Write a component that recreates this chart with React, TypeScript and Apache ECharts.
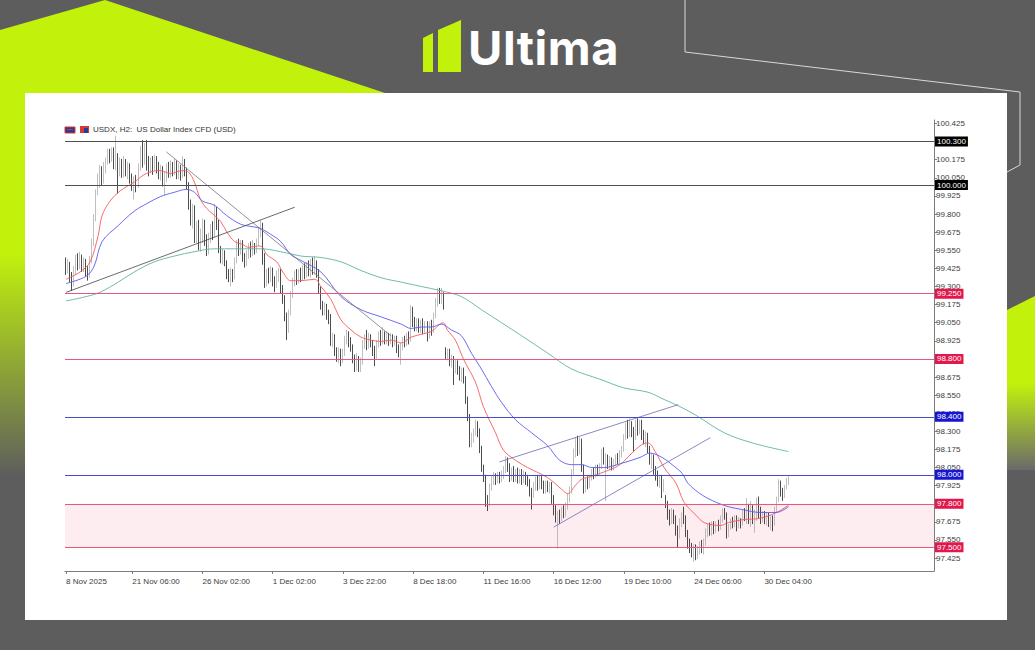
import React, { useEffect, useRef } from 'react';
import * as echarts from 'echarts';

// ---------- DATA ----------
// H2 candles: [open, close, low, high]
const candles: number[][] = [
[99.47,99.42,99.38,99.50],[99.42,99.45,99.39,99.49],[99.45,99.38,99.33,99.47],[99.38,99.32,99.27,99.40],[99.32,99.41,99.30,99.44],
[99.41,99.48,99.38,99.52],[99.48,99.45,99.41,99.53],[99.45,99.50,99.42,99.54],[99.50,99.44,99.40,99.52],[99.44,99.47,99.40,99.50],
[99.47,99.41,99.37,99.49],[99.41,99.38,99.34,99.44],[99.38,99.48,99.36,99.51],[99.48,99.60,99.46,99.63],[99.60,99.78,99.58,99.80],
[99.78,99.95,99.75,99.97],[99.95,100.05,99.93,100.08],[100.05,100.10,99.98,100.14],[100.10,100.03,100.00,100.13],[100.03,100.12,100.01,100.16],
[100.12,100.17,100.08,100.19],[100.17,100.22,100.14,100.25],[100.22,100.19,100.15,100.25],[100.19,100.24,100.16,100.26],[100.24,100.15,100.11,100.26],
[100.15,100.20,100.10,100.34],[100.20,100.10,99.94,100.22],[100.10,100.16,100.06,100.19],[100.16,100.08,100.05,100.18],[100.08,100.15,100.05,100.20],
[100.15,100.10,100.06,100.18],[100.10,100.13,100.04,100.16],[100.13,100.05,100.01,100.15],[100.05,99.99,99.96,100.08],[99.99,100.03,99.90,100.06],
[100.03,100.00,99.95,100.07],[100.00,100.12,99.98,100.15],[100.12,100.24,100.10,100.27],[100.24,100.18,100.12,100.31],[100.18,100.26,100.14,100.29],
[100.26,100.15,100.10,100.31],[100.15,100.10,100.06,100.20],[100.10,100.17,100.08,100.19],[100.17,100.12,100.07,100.20],[100.12,100.18,100.10,100.21],
[100.18,100.14,100.08,100.20],[100.14,100.08,100.04,100.16],[100.08,100.12,100.03,100.14],[100.12,100.03,99.99,100.13],[100.03,100.06,99.93,100.09],
[100.06,100.13,100.02,100.15],[100.13,100.08,100.05,100.16],[100.08,100.14,100.05,100.17],[100.14,100.10,100.06,100.16],[100.10,100.15,100.07,100.18],
[100.15,100.09,100.04,100.17],[100.09,100.12,100.04,100.15],[100.12,100.07,100.03,100.14],[100.07,100.14,100.05,100.20],[100.14,100.10,100.06,100.18],
[100.10,100.00,99.97,100.12],[100.00,99.86,99.83,100.02],[99.86,99.76,99.72,99.90],[99.76,99.84,99.70,99.87],[99.84,99.65,99.60,99.86],
[99.65,99.72,99.60,99.75],[99.72,99.58,99.55,99.76],[99.58,99.66,99.54,99.70],[99.66,99.74,99.60,99.77],[99.74,99.62,99.58,99.76],
[99.62,99.55,99.51,99.66],[99.55,99.64,99.52,99.67],[99.64,99.70,99.60,99.73],[99.70,99.66,99.62,99.75],[99.66,99.78,99.64,99.87],
[99.78,99.73,99.69,99.85],[99.73,99.56,99.53,99.76],[99.56,99.50,99.46,99.58],[99.50,99.53,99.45,99.56],[99.53,99.47,99.44,99.55],
[99.47,99.38,99.35,99.48],[99.38,99.36,99.33,99.42],[99.36,99.40,99.30,99.43],[99.40,99.37,99.33,99.42],[99.37,99.48,99.35,99.50],
[99.48,99.58,99.46,99.62],[99.58,99.55,99.51,99.63],[99.55,99.60,99.52,99.62],[99.60,99.50,99.47,99.62],[99.50,99.47,99.43,99.53],
[99.47,99.52,99.44,99.55],[99.52,99.57,99.49,99.60],[99.57,99.53,99.50,99.61],[99.53,99.58,99.51,99.62],[99.58,99.55,99.52,99.60],
[99.55,99.60,99.53,99.63],[99.60,99.68,99.58,99.71],[99.68,99.72,99.64,99.76],[99.72,99.50,99.45,99.74],[99.50,99.32,99.29,99.53],
[99.32,99.40,99.30,99.42],[99.40,99.36,99.32,99.43],[99.36,99.41,99.33,99.44],[99.41,99.34,99.30,99.43],[99.34,99.31,99.26,99.37],
[99.31,99.38,99.29,99.41],[99.38,99.40,99.33,99.43],[99.40,99.28,99.25,99.42],[99.28,99.22,99.18,99.31],[99.22,99.10,99.06,99.24],
[99.10,99.00,98.93,99.12],[99.00,99.12,98.98,99.14],[99.12,99.25,99.10,99.27],[99.25,99.33,99.22,99.36],[99.33,99.38,99.30,99.41],
[99.38,99.35,99.31,99.42],[99.35,99.39,99.32,99.42],[99.39,99.36,99.33,99.43],[99.36,99.42,99.34,99.45],[99.42,99.38,99.35,99.46],
[99.38,99.44,99.36,99.47],[99.44,99.40,99.37,99.48],[99.40,99.45,99.36,99.49],[99.45,99.42,99.38,99.50],[99.42,99.46,99.38,99.51],
[99.46,99.40,99.36,99.48],[99.40,99.28,99.25,99.42],[99.28,99.17,99.14,99.30],[99.17,99.13,99.10,99.20],[99.13,99.16,99.10,99.19],
[99.16,99.11,99.07,99.18],[99.11,99.08,99.04,99.14],[99.08,98.92,98.89,99.11],[98.92,98.95,98.88,98.98],[98.95,98.86,98.82,98.97],
[98.86,98.82,98.78,98.88],[98.82,98.85,98.77,98.88],[98.85,98.80,98.75,98.87],[98.80,98.84,98.77,98.87],[98.84,98.93,98.82,98.96],
[98.93,98.97,98.90,99.00],[98.97,98.92,98.88,98.99],[98.92,98.88,98.85,98.95],[98.88,98.80,98.77,98.90],[98.80,98.76,98.71,98.83],
[98.76,98.80,98.72,98.84],[98.80,98.74,98.71,98.82],[98.74,98.78,98.71,98.81],[98.78,98.90,98.76,98.93],[98.90,98.94,98.87,98.97],
[98.94,98.89,98.86,99.00],[98.89,98.95,98.87,98.98],[98.95,98.91,98.88,98.97],[98.91,98.86,98.82,98.93],[98.86,98.82,98.75,98.89],
[98.82,98.90,98.80,98.93],[98.90,98.96,98.88,98.99],[98.96,98.92,98.89,99.00],[98.92,98.97,98.90,99.02],[98.97,98.93,98.90,98.99],
[98.93,98.96,98.90,98.99],[98.96,98.92,98.89,98.98],[98.92,98.95,98.90,98.98],[98.95,98.91,98.88,98.97],[98.91,98.94,98.89,98.96],
[98.94,98.87,98.84,98.96],[98.87,98.85,98.81,98.90],[98.85,98.88,98.76,98.91],[98.88,98.93,98.86,98.95],[98.93,98.91,98.88,98.96],
[98.91,98.96,98.89,98.98],[98.96,98.93,98.90,98.99],[98.93,99.14,98.92,99.17],[99.14,99.06,99.02,99.16],[99.06,99.02,98.99,99.09],
[99.02,99.06,98.99,99.08],[99.06,99.01,98.98,99.08],[99.01,99.05,98.98,99.07],[99.05,99.00,98.97,99.08],[99.00,99.04,98.98,99.06],
[99.04,98.98,98.92,99.06],[98.98,99.03,98.94,99.06],[99.03,99.00,98.96,99.07],[99.00,99.10,98.98,99.12],[99.10,99.20,99.08,99.22],
[99.20,99.26,99.16,99.29],[99.26,99.22,99.18,99.29],[99.22,99.24,99.18,99.29],[99.24,99.17,99.14,99.26],[98.86,98.83,98.80,98.88],
[98.83,98.85,98.79,98.87],[98.85,98.78,98.75,98.87],[98.78,98.80,98.74,98.83],[98.80,98.74,98.62,98.82],[98.74,98.77,98.70,98.80],
[98.77,98.72,98.69,98.79],[98.72,98.68,98.65,98.75],[98.68,98.72,98.64,98.74],[98.72,98.66,98.63,98.74],[98.66,98.52,98.49,98.68],
[98.52,98.40,98.37,98.54],[98.40,98.22,98.19,98.42],[98.22,98.26,98.19,98.29],[98.26,98.30,98.22,98.32],[98.30,98.35,98.27,98.38],
[98.35,98.30,98.26,98.37],[98.30,98.18,98.15,98.32],[98.18,98.05,98.02,98.20],[98.05,97.98,97.95,98.07],[97.98,97.82,97.78,98.00],
[97.82,97.80,97.75,97.86],[97.80,97.92,97.78,97.94],[97.92,97.96,97.89,97.99],[97.96,97.99,97.93,98.02],[97.99,97.96,97.93,98.01],
[97.96,98.00,97.94,98.02],[98.00,97.97,97.94,98.02],[97.97,98.01,97.95,98.03],[98.01,98.04,97.97,98.06],[98.04,98.10,98.01,98.13],
[98.10,98.06,98.02,98.12],[98.06,97.99,97.95,98.08],[97.99,98.03,97.96,98.05],[98.03,97.98,97.95,98.06],[97.98,98.02,97.95,98.04],
[98.02,97.97,97.94,98.05],[97.97,98.01,97.94,98.04],[98.01,97.96,97.93,98.04],[97.96,98.00,97.94,98.03],[98.00,97.97,97.93,98.02],
[97.97,97.95,97.92,98.00],[97.95,97.88,97.85,97.97],[97.88,97.86,97.76,97.91],[97.86,97.92,97.84,97.95],[97.92,97.96,97.89,97.99],
[97.96,97.92,97.89,98.00],[97.92,97.97,97.90,98.00],[97.97,97.93,97.90,97.99],[97.93,97.90,97.87,97.96],[97.90,97.94,97.87,97.96],
[97.94,97.91,97.88,97.96],[97.91,97.93,97.87,97.95],[97.93,97.84,97.80,97.95],[97.84,97.76,97.72,97.86],[97.76,97.70,97.67,97.79],
[97.70,97.72,97.49,97.75],[97.72,97.70,97.66,97.76],[97.70,97.75,97.68,97.78],[97.75,97.73,97.70,97.79],[97.73,97.78,97.71,97.81],
[97.78,97.84,97.76,97.87],[97.84,97.89,97.81,97.92],[97.89,98.02,97.87,98.04],[98.02,98.15,98.00,98.18],[98.15,98.22,98.12,98.26],
[98.22,98.17,98.13,98.27],[98.17,98.23,98.14,98.26],[98.23,98.05,98.02,98.25],[98.05,97.90,97.87,98.07],[97.90,97.96,97.88,97.98],
[97.96,97.93,97.90,97.99],[97.93,97.98,97.91,98.00],[97.98,98.02,97.96,98.04],[98.02,98.00,97.97,98.05],[98.00,98.05,97.98,98.07],
[98.05,98.02,97.99,98.07],[98.02,98.06,98.00,98.08],[98.06,98.15,98.04,98.18],[98.15,98.10,98.07,98.19],[98.10,98.12,97.82,98.15],
[98.12,98.07,98.04,98.14],[98.07,98.10,98.04,98.13],[98.10,98.06,98.03,98.12],[98.06,98.09,98.03,98.11],[98.09,98.12,98.06,98.14],
[98.12,98.10,98.07,98.15],[98.10,98.15,98.08,98.17],[98.15,98.18,98.12,98.20],[98.18,98.26,98.16,98.28],[98.26,98.33,98.24,98.36],
[98.33,98.29,98.25,98.38],[98.29,98.35,98.26,98.39],[98.35,98.30,98.26,98.37],[98.30,98.27,98.16,98.33],[98.27,98.34,98.24,98.38],
[98.34,98.31,98.27,98.39],[98.31,98.36,98.28,98.38],[98.36,98.28,98.24,98.38],[98.28,98.25,98.21,98.31],[98.25,98.27,98.19,98.30],
[98.27,98.18,98.15,98.29],[98.18,98.10,98.07,98.20],[98.10,98.12,98.04,98.15],[98.12,98.03,98.00,98.14],[98.03,98.00,97.96,98.06],
[98.00,97.95,97.92,98.03],[97.95,97.98,97.91,98.00],[97.98,97.91,97.84,98.00],[97.91,97.95,97.88,97.97],[97.85,97.80,97.77,97.86],
[97.80,97.72,97.69,97.82],[97.72,97.68,97.65,97.76],[97.68,97.74,97.66,97.77],[97.74,97.70,97.66,97.76],[97.70,97.62,97.58,97.72],
[97.62,97.58,97.50,97.65],[97.58,97.68,97.56,97.70],[97.68,97.72,97.64,97.74],[97.72,97.70,97.66,97.78],[97.70,97.60,97.57,97.72],
[97.60,97.53,97.49,97.62],[97.53,97.50,97.46,97.56],[97.50,97.46,97.43,97.53],[97.46,97.49,97.40,97.52],[97.49,97.44,97.41,97.52],
[97.44,97.48,97.42,97.51],[97.48,97.52,97.45,97.54],[97.52,97.49,97.46,97.55],[97.49,97.53,97.45,97.56],[97.53,97.60,97.51,97.63],
[97.60,97.64,97.57,97.66],[97.64,97.61,97.58,97.67],[97.61,97.65,97.58,97.68],[97.65,97.62,97.59,97.68],[97.62,97.66,97.60,97.68],
[97.66,97.64,97.61,97.69],[97.64,97.70,97.62,97.72],[97.70,97.75,97.67,97.77],[97.75,97.72,97.69,97.77],[97.72,97.60,97.56,97.74],
[97.60,97.64,97.57,97.66],[97.64,97.68,97.62,97.70],[97.68,97.66,97.63,97.71],[97.66,97.70,97.64,97.72],[97.70,97.66,97.61,97.72],
[97.66,97.69,97.63,97.71],[97.69,97.67,97.63,97.70],[97.67,97.74,97.65,97.76],[97.74,97.71,97.68,97.77],[97.71,97.78,97.66,97.84],
[97.78,97.72,97.66,97.80],[97.72,97.76,97.64,97.82],[97.76,97.70,97.66,97.79],[97.70,97.72,97.60,97.76],[97.72,97.77,97.68,97.84],
[97.77,97.73,97.70,97.85],[97.73,97.70,97.66,97.78],[97.70,97.73,97.67,97.75],[97.73,97.69,97.66,97.75],[97.69,97.72,97.65,97.74],
[97.72,97.67,97.64,97.74],[97.67,97.70,97.62,97.72],[97.70,97.66,97.61,97.72],[97.66,97.76,97.65,97.78],[97.76,97.83,97.74,97.85],
[97.83,97.94,97.81,97.97],[97.94,97.88,97.85,97.96],[97.88,97.85,97.82,97.91],[97.85,97.91,97.84,97.93],[97.91,97.95,97.90,97.98],
[97.95,97.964,97.93,97.99],
];

// moving averages: [bar index, value]
const maFast: number[][] = [
[0,99.35],[7,99.40],[12,99.47],[16,99.65],[18,99.79],[22,99.89],[27,99.96],[34,100.02],[40,100.08],[47,100.10],
[52,100.08],[58,100.10],[61,100.09],[64,100.02],[67,99.90],[70,99.84],[74,99.79],[77,99.75],[80,99.68],[84,99.61],
[88,99.59],[91,99.57],[96,99.58],[98,99.57],[100,99.52],[105,99.47],[108,99.40],[112,99.34],[117,99.34],[124,99.35],
[127,99.30],[132,99.21],[137,99.07],[142,99.00],[147,98.95],[152,98.93],[157,98.92],[162,98.93],[167,98.91],[172,98.95],
[177,98.97],[182,98.99],[188,99.05],[190,99.00],[194,98.93],[198,98.80],[204,98.64],[208,98.47],[214,98.29],[218,98.17],
[224,98.10],[230,98.05],[240,97.98],[247,97.90],[250,97.87],[254,97.93],[257,97.97],[262,97.99],[270,98.03],[276,98.07],
[282,98.15],[287,98.21],[290,98.22],[294,98.15],[298,98.05],[304,97.94],[308,97.81],[314,97.72],[318,97.67],[326,97.65],
[330,97.67],[337,97.69],[346,97.70],[354,97.74],[360,97.79],
];
const maMid: number[][] = [
[0,99.32],[10,99.37],[14,99.44],[18,99.61],[26,99.72],[34,99.82],[40,99.87],[47,99.92],[54,99.95],[60,99.97],
[64,99.95],[68,99.89],[74,99.86],[80,99.79],[87,99.73],[94,99.71],[97,99.70],[102,99.66],[107,99.61],[112,99.52],
[117,99.48],[127,99.40],[137,99.23],[147,99.14],[157,99.09],[167,99.04],[172,99.01],[177,99.02],[182,99.02],[187,99.04],
[192,99.00],[197,98.96],[202,98.84],[207,98.73],[212,98.61],[217,98.50],[224,98.38],[232,98.29],[240,98.20],[246,98.10],
[252,98.07],[257,98.07],[262,98.05],[268,98.05],[277,98.08],[286,98.12],[291,98.15],[297,98.12],[302,98.07],[307,98.01],
[310,97.94],[317,97.86],[324,97.81],[330,97.78],[337,97.76],[346,97.74],[354,97.74],[360,97.78],
];
const maSlow: number[][] = [
[0,99.20],[10,99.23],[17,99.26],[26,99.33],[34,99.40],[44,99.47],[54,99.51],[64,99.54],[74,99.56],[84,99.56],
[97,99.56],[107,99.54],[117,99.51],[127,99.50],[137,99.47],[147,99.41],[157,99.36],[167,99.33],[177,99.30],[187,99.27],
[197,99.23],[207,99.14],[217,99.05],[227,98.96],[240,98.84],[252,98.73],[266,98.66],[278,98.60],[290,98.57],[298,98.52],
[306,98.47],[314,98.41],[328,98.29],[342,98.22],[360,98.16],
];

// drawn trend lines: [[bar, price], [bar, price]]
const supportLine = [[0, 99.259], [114, 99.847]];
const resistanceLine = [[50, 100.229], [162, 98.958]];
const channelUpper = [[216, 98.089], [305, 98.484]];
const channelLower = [[243, 97.639], [321, 98.256]];

// horizontal levels
const blackLevels = [100.3, 100.0];
const redLevels = [99.25, 98.8, 97.8, 97.5];
const blueLevels = [98.4, 98.0];
const lastPrice = 97.964;
const zoneBand = [97.5, 97.8];

// axes
const yTickValues = [
97.425, 97.55, 97.675, 97.8, 97.925, 98.05, 98.175, 98.3, 98.425, 98.55, 98.675, 98.8, 98.925,
99.05, 99.175, 99.3, 99.425, 99.55, 99.675, 99.8, 99.925, 100.05, 100.175, 100.3, 100.425,
];
const xTickLabels: { index: number; label: string }[] = [
{ index: 0, label: '8 Nov 2025' }, { index: 33, label: '21 Nov 06:00' }, { index: 68, label: '26 Nov 02:00' },
{ index: 103, label: '1 Dec 02:00' }, { index: 138, label: '3 Dec 22:00' }, { index: 173, label: '8 Dec 18:00' },
{ index: 208, label: '11 Dec 16:00' }, { index: 243, label: '16 Dec 12:00' }, { index: 278, label: '19 Dec 10:00' },
{ index: 313, label: '24 Dec 06:00' }, { index: 348, label: '30 Dec 04:00' },
];
const slotCount = 433;
const symbolTitle = 'USDX, H2:  US Dollar Index CFD (USD)';

// ---------- CHART ----------
const FONT = 'Liberation Sans, Arial, sans-serif';
const RED_LINE = '#e8587c';
const RED_TAG = '#e3174b';
const BLUE_LINE = '#4a4ad0';
const BLUE_TAG = '#1616d2';

function tagLabel(bg: string) {
  return {
    show: true,
    position: 'end',
    distance: 1,
    formatter: (p: any) => Number(p.value).toFixed(3),
    backgroundColor: bg,
    color: '#ffffff',
    fontSize: 8,
    fontFamily: FONT,
    padding: [1, 2, 0, 2],
    lineHeight: 9,
  };
}

function buildOption() {
  const labelMap: Record<number, string> = {};
  xTickLabels.forEach((t) => (labelMap[t.index] = t.label));
  const categories = Array.from({ length: slotCount }, (_, i) => labelMap[i] ?? '');

  const levelData: any[] = [];
  levelData.push({ yAxis: lastPrice, lineStyle: { opacity: 0 }, label: tagLabel('#000000') });
  blackLevels.forEach((v) => levelData.push({ yAxis: v, lineStyle: { color: '#505050', width: 1, type: 'solid' }, label: tagLabel('#000000') }));
  redLevels.forEach((v) => levelData.push({ yAxis: v, lineStyle: { color: RED_LINE, width: 1, type: 'solid' }, label: tagLabel(RED_TAG) }));
  blueLevels.forEach((v) => levelData.push({ yAxis: v, lineStyle: { color: BLUE_LINE, width: 1, type: 'solid' }, label: tagLabel(BLUE_TAG) }));

  const trend = (name: string, pts: number[][], color: string) => ({
    name, type: 'line', data: pts, showSymbol: false, symbol: 'none', silent: true, z: 4,
    lineStyle: { color, width: 0.8 },
  });
  const ma = (name: string, pts: number[][], color: string) => ({
    name, type: 'line', data: pts, showSymbol: false, symbol: 'none', smooth: 0.35, silent: true, z: 4,
    lineStyle: { color, width: 0.9 },
  });

  return {
    animation: false,
    textStyle: { fontFamily: FONT },
    grid: { left: 40, top: 27, width: 869, height: 451, containLabel: false },
    xAxis: {
      type: 'category',
      data: categories,
      boundaryGap: true,
      axisLine: { show: true, lineStyle: { color: '#7c7c7c', width: 1 } },
      axisTick: { show: true, alignWithLabel: true, interval: (_i: number, v: string) => v !== '', length: 3, lineStyle: { color: '#7c7c7c' } },
      axisLabel: { interval: (_i: number, v: string) => v !== '', align: 'left', fontSize: 8, color: '#3c3c3c', margin: 6, fontFamily: FONT },
      splitLine: { show: false },
    },
    yAxis: {
      type: 'value',
      position: 'right',
      min: 97.336,
      max: 100.449,
      scale: true,
      splitLine: { show: false },
      axisLine: { show: true, lineStyle: { color: '#7c7c7c', width: 1 } },
      axisTick: { show: true, customValues: yTickValues, length: 3, lineStyle: { color: '#7c7c7c' } },
      axisLabel: { customValues: yTickValues, formatter: (v: number) => v.toFixed(3), fontSize: 8, color: '#3c3c3c', margin: 2, fontFamily: FONT },
    },
    graphic: [
      { type: 'rect', shape: { x: 40, y: 34, width: 10, height: 6 }, style: { fill: '#2b3a8c', stroke: '#d23a3a', lineWidth: 1 } },
      { type: 'rect', shape: { x: 42, y: 36, width: 6, height: 1 }, style: { fill: '#d23a3a' } },
      { type: 'rect', shape: { x: 55, y: 33, width: 9, height: 7 }, style: { fill: '#d23a3a' } },
      { type: 'rect', shape: { x: 59, y: 35, width: 4, height: 5 }, style: { fill: '#2b3a8c' } },
      { type: 'text', x: 68, y: 36, style: { text: symbolTitle, fontSize: 8, fill: '#333333', fontFamily: FONT, verticalAlign: 'middle' } },
    ],
    series: [
      {
        name: 'zone', type: 'line', data: [], z: 1, silent: true,
        markArea: { silent: true, itemStyle: { color: '#fdedf1' }, data: [[{ yAxis: zoneBand[0] }, { yAxis: zoneBand[1] }]] },
      },
      {
        name: 'USDX', type: 'candlestick', data: candles, z: 3, barWidth: 1,
        itemStyle: { color: '#a3a3a3', color0: '#000000', borderColor: '#a3a3a3', borderColor0: '#000000', borderWidth: 0.7 },
        markLine: { symbol: ['none', 'none'], silent: true, animation: false, data: levelData, z: 6 },
      },
      ma('MA fast', maFast, '#f55a5a'),
      ma('MA mid', maMid, '#5a5af0'),
      ma('MA slow', maSlow, '#5fb3a2'),
      trend('support', supportLine, '#454545'),
      trend('resistance', resistanceLine, '#777777'),
      trend('channel upper', channelUpper, '#6c6cb4'),
      trend('channel lower', channelLower, '#6c6cb4'),
    ],
  };
}

export default function App() {
  const ref = useRef<HTMLDivElement>(null);
  useEffect(() => {
    if (!ref.current) return;
    const chart = echarts.init(ref.current, null, { renderer: 'svg' });
    chart.setOption(buildOption() as any);
    return () => chart.dispose();
  }, []);
  const lime = '#c2f20c';
  return (
    <div style={{ position: 'fixed', left: 0, top: 0, width: 1035, height: 650, background: '#5d5d5d', overflow: 'hidden' }}>
      <svg width={1035} height={650} style={{ position: 'absolute', left: 0, top: 0 }}>
        <defs>
          <linearGradient id="leftFade" x1="0" y1="0" x2="0" y2="1">
            <stop offset="0" stopColor={lime} />
            <stop offset="0.45" stopColor={lime} />
            <stop offset="0.85" stopColor="#5d5d5d" />
          </linearGradient>
          <linearGradient id="rightFade" x1="0" y1="0" x2="0" y2="1">
            <stop offset="0" stopColor={lime} />
            <stop offset="0.5" stopColor={lime} />
            <stop offset="1" stopColor="#6a6a6a" />
          </linearGradient>
        </defs>
        <polygon points="105,0 385,93 25,93 25,560 0,560 0,0" fill="url(#leftFade)" />
        <polygon points="0,0 105,0 0,30" fill="#5d5d5d" />
        <polygon points="1007,310 1035,296 1035,470 1007,470" fill="url(#rightFade)" />
        <polyline points="685,0 685,52 1020,92 1020,165 1007,172" fill="none" stroke="#d8d8d8" strokeWidth={1} />
        <polygon points="423,38 433,33 433,72 423,72" fill={lime} />
        <polygon points="438,30 461,20 461,72 438,72" fill={lime} />
      </svg>
      <div style={{ position: 'absolute', left: 468, top: 20, fontFamily: 'Inter, Open Sans, sans-serif', fontWeight: 700, fontSize: 47, lineHeight: '56px', color: '#ffffff', letterSpacing: 0.5 }}>Ultima</div>
      <div style={{ position: 'absolute', left: 25, top: 93, width: 982, height: 527, background: '#ffffff' }} />
      <div ref={ref} style={{ position: 'absolute', left: 25, top: 93, width: 982, height: 527 }} />
    </div>
  );
}
